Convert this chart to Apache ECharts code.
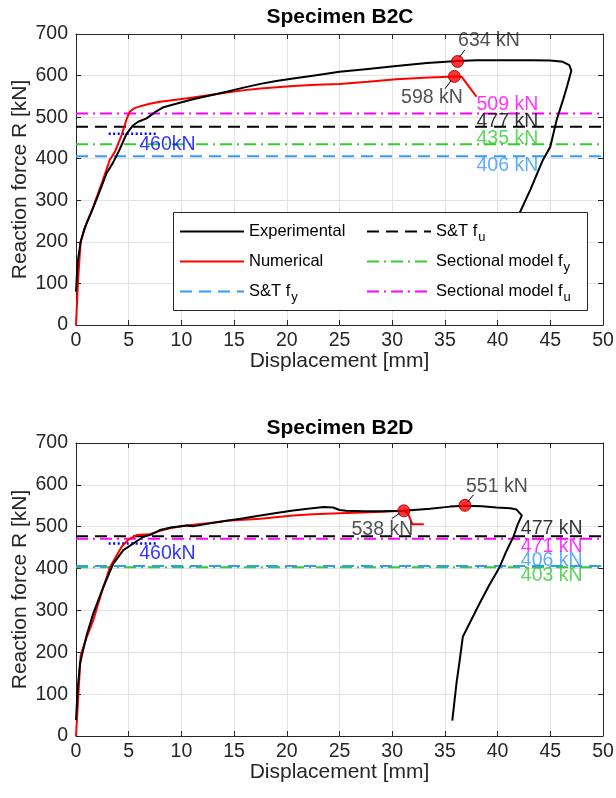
<!DOCTYPE html>
<html><head><meta charset="utf-8">
<script src="https://cdn.jsdelivr.net/npm/echarts@6/dist/echarts.min.js"></script>
<style>html,body{margin:0;padding:0;background:#fff}#c{width:616px;height:798px}</style>
</head><body><div id="c"></div>
<script>
// ---------- data ----------
const titles = ['Specimen B2C', 'Specimen B2D'];
const seriesNames = ['Experimental', 'Numerical', 'S&T fy', 'S&T fu', 'Sectional model fy', 'Sectional model fu'];

const b2cExperimental = [[0,80],[0.15,150],[0.44,200],[0.8,232],[1.6,280],[2.3,325],[2.9,365],[3.5,390],[4.1,420],[4.8,460],[5.4,480],[5.9,489],[6.7,497],[7.5,512],[8.3,524],[9.5,532],[11.1,543],[12.7,552],[14.3,561],[15.9,571],[17.5,580],[19,587],[20.6,593],[22.8,601],[25,609],[27.7,616],[30.4,623],[33.3,630],[36.2,635],[38,637],[40,637],[43.1,637],[45,636],[46.2,633],[46.8,625],[47.0,612],[46.6,575],[46.2,541],[45.6,493],[45.0,429],[44.3,397],[43.6,355],[43.1,325],[42.1,270],[41.2,200],[40.3,120],[39.6,60]];
const b2cNumerical = [[0,0],[0.2,110],[0.44,200],[1.0,245],[1.64,285],[2.5,345],[3.2,397],[3.7,417],[4.33,457],[4.8,495],[5.1,513],[5.5,521],[6.2,527],[7.0,532],[7.97,537],[9.5,542],[11.1,547],[12.7,553],[14.3,559],[16,565],[17.5,569],[20.6,575],[22.8,578],[25,580],[27.7,585],[30.4,591],[33,595],[35.9,598],[36.6,597],[37.3,573],[38.0,549]];
const b2dExperimental = [[0,38],[0.15,110],[0.38,173],[1.0,240],[1.64,293],[2.59,356],[3.54,412],[4.49,444],[5.44,460],[6.39,476],[7.0,480],[7.97,492],[9,498],[10.5,503],[11.1,501],[12.7,508],[14.3,514],[15.9,520],[17.5,527],[19,533],[20.6,539],[22,543],[23.5,547],[24.4,546],[25,540],[25.6,538],[27.3,537],[29,537],[31.1,538],[33.6,543],[35.5,548],[36.9,550],[38.5,549],[39.9,546],[41.2,544],[41.8,541],[42.3,527],[41.9,505],[41.5,476],[40.8,440],[40.2,404],[39.2,360],[38.3,317],[37.5,277],[36.7,237],[36.4,180],[36.1,126],[35.7,37]];
const b2dNumerical = [[0,0],[0.44,193],[1.0,235],[1.64,277],[2.4,340],[3.23,404],[4.33,452],[5.0,470],[5.76,480],[7.0,482],[7.97,490],[9,497],[10.5,503],[12.7,509],[14.3,514],[17.5,519],[20.6,527],[22.5,530],[25,532],[27.3,534],[29,536],[31.1,538],[31.5,532],[31.9,506],[33.0,506]];

// reference levels: [S&T fy, S&T fu, Sectional model fy, Sectional model fu]
const b2cLevels = [406, 477, 435, 509];
const b2dLevels = [406, 477, 403, 471];
const yieldLevel = 460;
const yieldSpan = [3.1, 7.7];

// peaks: [x, y] for experimental and numerical
const b2cPeaks = [[36.2, 634], [35.9, 598]];
const b2dPeaks = [[36.9, 551], [31.1, 538]];
const b2cPeakText = ['634 kN', '598 kN'];
const b2dPeakText = ['551 kN', '538 kN'];
const b2cLevelText = ['406 kN', '477 kN', '435 kN', '509 kN'];
const b2dLevelText = ['406 kN', '477 kN', '403 kN', '471 kN'];
const yieldText = '460kN';

// ---------- styles / layout ----------
const FONT = '"Liberation Sans", Arial, Helvetica, sans-serif';
const INK = '#262626';
const levelColors = ['#3399ff', '#000000', '#33cc33', '#ff00ff'];
const levelDash = [[12, 7], [12, 7], [12, 5, 2, 5], [12, 5, 2, 5]];
// annotation placement (data coords): text anchor & arrow [x1,y1,x2,y2]
const layouts = [
  { peakText: [[36.25, 683, 'l'], [36.7, 546, 'r']],
    arrows: [[36.9, 662, 36.4, 645], [35.0, 568, 35.6, 588]],
    levelX: 38.0, levelY: [383, 490, 449, 531], yieldY: 434 },
  { peakText: [[37.0, 595, 'l'], [32.0, 492, 'r']],
    arrows: [[37.7, 576, 37.15, 559], [29.95, 519, 30.7, 532]],
    levelX: 42.2, levelY: [418, 496, 384, 452], yieldY: 436 }
];

const datasets = [
  { exp: b2cExperimental, num: b2cNumerical, levels: b2cLevels, peaks: b2cPeaks, peakText: b2cPeakText, levelText: b2cLevelText },
  { exp: b2dExperimental, num: b2dNumerical, levels: b2dLevels, peaks: b2dPeaks, peakText: b2dPeakText, levelText: b2dLevelText }
];

const grids = [
  { left: 76, top: 34, width: 527, height: 291, outerBoundsMode: 'none', containLabel: false },
  { left: 76, top: 443, width: 527, height: 293, outerBoundsMode: 'none', containLabel: false }
];

function xAx(gi, top) {
  return {
    type: 'value', gridIndex: gi, min: 0, max: 50, interval: 5, position: top ? 'top' : 'bottom',
    axisLine: { show: true, onZero: false, lineStyle: { color: INK, width: 1 } },
    axisTick: { show: true, inside: true, length: 5, lineStyle: { color: INK } },
    axisLabel: { show: !top, color: INK, fontSize: 19.5, fontFamily: FONT, margin: 6 },
    splitLine: { show: !top, lineStyle: { color: '#e3e3e3', width: 1 } },
    name: top ? '' : 'Displacement [mm]', nameLocation: 'middle', nameGap: 26, nameMoveOverlap: false,
    nameTextStyle: { color: INK, fontSize: 21, fontFamily: FONT }
  };
}
function yAx(gi, right) {
  return {
    type: 'value', gridIndex: gi, min: 0, max: 700, interval: 100, position: right ? 'right' : 'left',
    axisLine: { show: true, onZero: false, lineStyle: { color: INK, width: 1 } },
    axisTick: { show: true, inside: true, length: 5, lineStyle: { color: INK } },
    axisLabel: { show: !right, color: INK, fontSize: 19.5, fontFamily: FONT, margin: 8 },
    splitLine: { show: !right, lineStyle: { color: '#e3e3e3', width: 1 } },
    name: right ? '' : 'Reaction force R [kN]', nameLocation: 'middle', nameGap: 45, nameMoveOverlap: false,
    nameTextStyle: { color: INK, fontSize: 21, fontFamily: FONT }
  };
}

function textItem(x, y, text, color, side) {
  return { value: [x, y], label: { show: true, formatter: text, color: color, position: side === 'l' ? 'right' : 'left', distance: 0, fontSize: 19.5, fontFamily: FONT } };
}

const series = [];
datasets.forEach((d, gi) => {
  const L = layouts[gi];
  const base = { xAxisIndex: gi, yAxisIndex: gi, symbol: 'none', animation: false, silent: true };
  [3, 2, 1, 0].forEach(k => {
    series.push(Object.assign({}, base, {
      type: 'line', name: seriesNames[2 + k], z: 2,
      data: [[0, d.levels[k]], [50, d.levels[k]]],
      lineStyle: { color: levelColors[k], width: 2, type: levelDash[k] },
      itemStyle: { color: levelColors[k] }
    }));
  });
  series.push(Object.assign({}, base, {
    type: 'line', name: 'yield', z: 2,
    data: [[yieldSpan[0], yieldLevel], [yieldSpan[1], yieldLevel]],
    lineStyle: { color: '#0000ff', width: 2.5, type: [2, 2.5] }
  }));
  series.push(Object.assign({}, base, {
    type: 'line', name: 'Numerical', z: 3, data: d.num,
    lineStyle: { color: '#ff0000', width: 2 }, itemStyle: { color: '#ff0000' }
  }));
  series.push(Object.assign({}, base, {
    type: 'line', name: 'Experimental', z: 3, data: d.exp,
    lineStyle: { color: '#000000', width: 2 }, itemStyle: { color: '#000000' }
  }));
  series.push({
    type: 'scatter', name: 'peaks', xAxisIndex: gi, yAxisIndex: gi, z: 4, silent: true, animation: false,
    symbolSize: 12, data: d.peaks,
    itemStyle: { color: '#ff0000', borderColor: '#8a0000', borderWidth: 1 }
  });
  const texts = [];
  L.peakText.forEach((p, i) => texts.push(textItem(p[0], p[1], d.peakText[i], INK, p[2])));
  [0, 1, 2, 3].forEach(k => texts.push(textItem(L.levelX, L.levelY[k], d.levelText[k], levelColors[k], 'l')));
  texts.push(textItem(6.0, L.yieldY, yieldText, '#0000ff', 'l'));
  series.push({
    type: 'scatter', name: 'labels', xAxisIndex: gi, yAxisIndex: gi, z: 5, silent: true, animation: false,
    symbolSize: 0, data: texts,
    markLine: {
      silent: true, animation: false, symbol: ['none', 'arrow'], symbolSize: [0, 7], z: 6,
      lineStyle: { color: '#000', width: 1, type: 'solid' }, label: { show: false },
      data: L.arrows.map(a => [{ coord: [a[0], a[1]] }, { coord: [a[2], a[3]] }])
    }
  });
});

const legendText = {
  fontFamily: FONT, color: '#000',
  rich: {
    m: { fontSize: 16.5, lineHeight: 20, fontFamily: FONT, color: '#000' },
    s: { fontSize: 13, lineHeight: 14, padding: [12, 0, 0, 1], fontFamily: FONT, color: '#000' }
  }
};
function legendFmt(name) {
  const m = name.match(/^(.* f)([yu])$/);
  return m ? '{m|' + m[1] + '}{s|' + m[2] + '}' : '{m|' + name + '}{s| }';
}
const legendBase = { orient: 'vertical', top: 219, itemWidth: 64, itemHeight: 14, itemGap: 5, padding: 0, z: 11,
  selectedMode: false, textStyle: legendText, formatter: legendFmt,
  itemStyle: { opacity: 0, borderWidth: 0 } };

const option = {
  animation: false,
  backgroundColor: '#fff',
  title: titles.map((t, i) => ({
    text: t, left: 340, textAlign: 'center', top: i === 0 ? 7 : 418, padding: 0,
    textStyle: { fontFamily: FONT, fontWeight: 'bold', fontSize: 21, color: '#000' }
  })),
  grid: grids,
  xAxis: [xAx(0, false), xAx(1, false), xAx(0, true), xAx(1, true)],
  yAxis: [yAx(0, false), yAx(1, false), yAx(0, true), yAx(1, true)],
  legend: [
    Object.assign({}, legendBase, { data: seriesNames.slice(0, 3), left: 179 }),
    Object.assign({}, legendBase, { data: seriesNames.slice(3, 6), left: 366 })
  ],
  graphic: { elements: [{ type: 'rect', left: 173, top: 212, z: 10,
    shape: { width: 414, height: 98 }, style: { fill: '#fff', stroke: INK, lineWidth: 1 } }] },
  series: series
};

const chart = echarts.init(document.getElementById('c'), null, { renderer: 'canvas' });
chart.setOption(option);
</script></body></html>
